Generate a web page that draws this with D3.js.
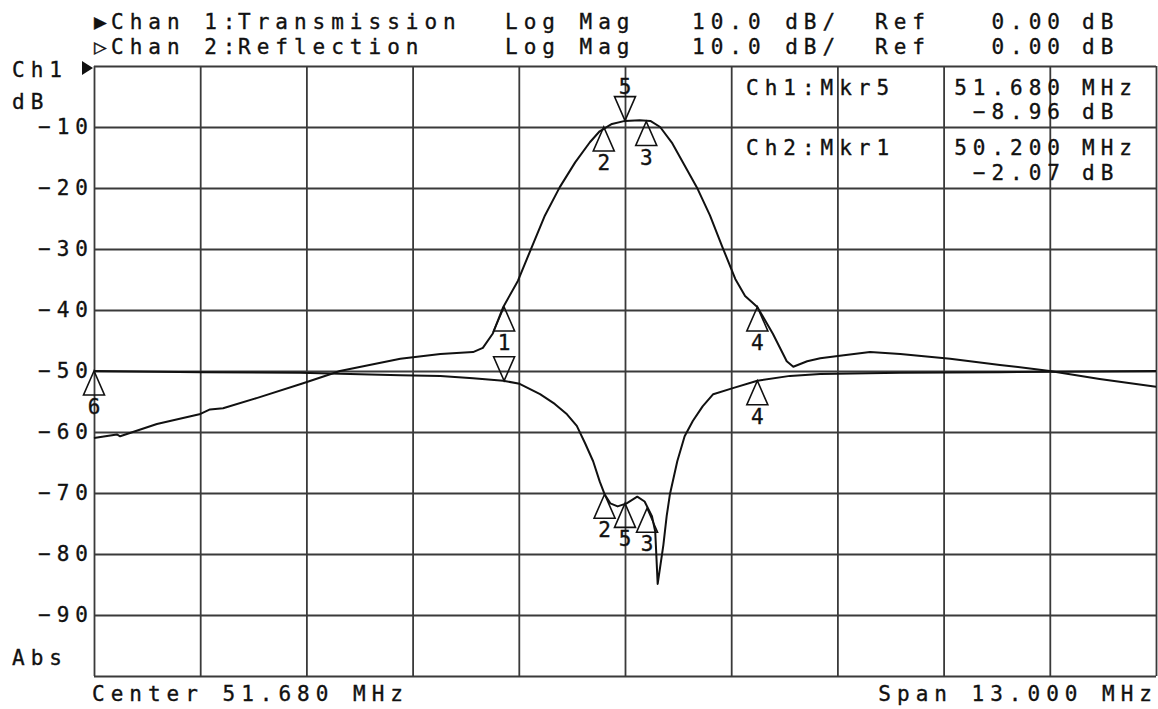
<!DOCTYPE html>
<html lang="en">
<head>
<meta charset="UTF-8">
<title>Transmission / Reflection</title>
<script src="https://d3js.org/d3.v7.min.js"></script>
<style>
    body { margin: 0; background: #fff; }
    text { font-family: "DejaVu Sans Mono", monospace; font-size: 21px; letter-spacing: 6px; fill: #111; stroke: #111; stroke-width: 0.35px; }
</style>
</head>
<body>
<script>
// sweep: center 51.680 MHz, span 13.000 MHz
const center = 51.68, span = 13.0;
const yTicks = [-10, -20, -30, -40, -50, -60, -70, -80, -90];

// channel 1 (transmission), MHz / dB
const ch1Freq = [45.18, 45.46, 45.50, 45.95, 46.47, 46.60, 46.76, 47.18, 47.74, 48.19, 48.93, 49.42, 49.82, 49.94, 50.06, 50.19,
    50.37, 50.52, 50.70, 50.88, 51.07, 51.25, 51.37, 51.52, 51.68, 51.86, 51.99, 52.11, 52.26, 52.41, 52.56, 52.72, 52.87,
    53.03, 53.15, 53.30, 53.49, 53.66, 53.74, 53.91, 54.07, 54.31, 54.68, 55.05, 55.66, 56.27, 56.88, 57.49, 58.18];
const ch1Db = [-61.0, -60.4, -60.7, -58.7, -57.1, -56.3, -56.1, -54.4, -52.0, -50.0, -48.0, -47.2, -46.9, -46.2, -43.9, -39.5,
    -35.2, -30.3, -24.5, -19.9, -15.8, -12.5, -10.7, -9.5, -9.0, -8.9, -9.0, -10.0, -12.7, -16.3, -19.9, -24.5, -29.6,
    -34.9, -37.7, -39.5, -43.9, -48.4, -49.3, -48.4, -47.9, -47.5, -46.9, -47.2, -48.0, -49.0, -50.0, -51.3, -52.6];

// channel 2 (reflection)
const ch2Freq = [45.18, 46.48, 47.70, 48.93, 49.42, 49.82, 50.19, 50.39, 50.64, 50.82, 50.97, 51.09, 51.19, 51.29, 51.37,
    51.43, 51.50, 51.59, 51.70, 51.83, 51.92, 52.01, 52.05, 52.08, 52.15, 52.19, 52.23, 52.32, 52.41, 52.51, 52.63, 52.76,
    53.00, 53.30, 53.70, 54.07, 55.05, 56.27, 58.18];
const ch2Db = [-50.0, -50.2, -50.3, -50.7, -50.8, -51.2, -51.6, -52.1, -53.8, -55.4, -57.1, -59.0, -61.8, -64.8, -68.1,
    -70.2, -71.7, -72.2, -71.7, -70.6, -71.4, -73.8, -76.3, -84.9, -78.5, -73.8, -70.2, -64.8, -60.7, -58.2, -55.8, -53.8,
    -52.8, -51.6, -50.8, -50.5, -50.3, -50.2, -50.0];

// markers
const ch1MkrLabel = ["1", "2", "3", "4", "5"];
const ch1MkrFreq = [50.20, 51.42, 51.94, 53.30, 51.68];
const ch1MkrDb = [-39.5, -10.0, -9.1, -39.5, -8.96];
const ch1MkrDir = ["up", "up", "up", "up", "down"];
const ch2MkrLabel = ["6", "1", "2", "5", "3", "4"];
const ch2MkrFreq = [45.18, 50.20, 51.43, 51.68, 51.95, 53.30];
const ch2MkrDb = [-50.0, -51.6, -70.2, -71.7, -72.5, -51.6];
const ch2MkrDir = ["up", "down", "up", "up", "up", "up"];

const width = 1158, height = 709;
const pLeft = 94, pRight = 1156, pTop = 66, pBottom = 676;
const LS = 6; // letter spacing, compensates end-anchored text

const x = d3.scaleLinear().domain([center - span / 2, center + span / 2]).range([pLeft, pRight]);
const y = d3.scaleLinear().domain([-100, 0]).range([pBottom, pTop]);

const svg = d3.select("body").append("svg")
    .attr("width", width)
    .attr("height", height);

svg.append("rect").attr("width", width).attr("height", height).attr("fill", "#fff");

// grid
const gx = svg.append("g")
    .attr("transform", `translate(0,${pBottom})`)
    .call(d3.axisBottom(x).tickValues(d3.range(11).map(i => center - span / 2 + i * span / 10))
        .tickSize(-(pBottom - pTop)).tickFormat(""));
const gy = svg.append("g")
    .attr("transform", `translate(${pLeft},0)`)
    .call(d3.axisLeft(y).tickValues(d3.range(-100, 1, 10)).tickSize(-(pRight - pLeft)).tickFormat(""));
[gx, gy].forEach(g => {
    g.select(".domain").remove();
    g.selectAll("line").attr("stroke", "#3a3a3a").attr("stroke-width", 1.8);
});

// y labels
const ya = svg.append("g")
    .attr("transform", `translate(${pLeft - 6},0)`)
    .call(d3.axisLeft(y).tickValues(yTicks).tickSize(0).tickPadding(0).tickFormat(d => "\u2212" + Math.abs(d)));
ya.select(".domain").remove();
ya.selectAll("text")
    .attr("dx", LS)
    .attr("font-family", null)
    .attr("font-size", null)
    .style("font-family", "DejaVu Sans Mono")
    .style("font-size", "21px")
    .style("letter-spacing", LS + "px")
    .attr("fill", "#111");

// traces
const line = d3.line().x(d => x(d[0])).y(d => y(d[1]));
svg.append("path")
    .datum(ch1Freq.map((f, i) => [f, ch1Db[i]]))
    .attr("d", line)
    .attr("fill", "none").attr("stroke", "#111").attr("stroke-width", 2).attr("stroke-linejoin", "round");
svg.append("path")
    .datum(ch2Freq.map((f, i) => [f, ch2Db[i]]))
    .attr("d", line)
    .attr("fill", "none").attr("stroke", "#111").attr("stroke-width", 2).attr("stroke-linejoin", "round");

// marker triangles; a number shared by two markers at the same spot is printed once
const placed = [];
function drawMarkers(labels, freqs, dbs, dirs) {
    const tw = 10.5, th = 24;
    labels.forEach((lab, i) => {
        const px = x(freqs[i]), py = y(dbs[i]);
        const s = dirs[i] === "up" ? 1 : -1;
        svg.append("path")
            .attr("d", `M${px},${py}L${px - tw},${py + s * th}L${px + tw},${py + s * th}Z`)
            .attr("fill", "none").attr("stroke", "#111").attr("stroke-width", 1.6);
        const ly = py + s * (th + 11) + 8;
        if (placed.some(p => p.lab === lab && Math.abs(p.x - px) < 8 && Math.abs(p.y - ly) < 12)) return;
        placed.push({ lab, x: px, y: ly });
        svg.append("text")
            .attr("x", px + LS / 2)
            .attr("y", ly)
            .attr("text-anchor", "middle")
            .text(lab);
    });
}
drawMarkers(ch1MkrLabel, ch1MkrFreq, ch1MkrDb, ch1MkrDir);
drawMarkers(ch2MkrLabel, ch2MkrFreq, ch2MkrDb, ch2MkrDir);

// reference pointer at left
svg.append("path")
    .attr("d", `M${pLeft - 1},${pTop + 2}L${pLeft - 12},${pTop - 5}L${pLeft - 12},${pTop + 9}Z`)
    .attr("fill", "#111");

// annotation text
function txt(s, tx, ty, anchor) {
    svg.append("text")
        .attr("x", anchor === "end" ? tx + LS : tx)
        .attr("y", ty)
        .attr("text-anchor", anchor || "start")
        .attr("xml:space", "preserve")
        .text(s);
}
txt("\u25B6", 94, 29); txt("Chan 1:", 111, 29); txt("Transmission", 238, 29);
txt("\u25B7", 94, 54); txt("Chan 2:", 111, 54); txt("Reflection", 238, 54);
[29, 54].forEach(b => {
    txt("Log Mag", 505, b);
    txt("10.0 dB/", 692, b);
    txt("Ref", 875, b);
    txt("0.00", 1060, b, "end");
    txt("dB", 1082, b);
});
txt("Ch1", 12, 77);
txt("dB", 12, 109);
txt("Abs", 12, 665);
txt("Ch1:Mkr5", 746, 95);
txt("51.680", 1060, 95, "end"); txt("MHz", 1082, 95);
txt("\u22128.96", 1060, 119, "end"); txt("dB", 1082, 119);
txt("Ch2:Mkr1", 746, 155);
txt("50.200", 1060, 155, "end"); txt("MHz", 1082, 155);
txt("\u22122.07", 1060, 180, "end"); txt("dB", 1082, 180);
txt("Center 51.680 MHz", 92, 701);
txt("Span 13.000 MHz", 1152, 701, "end");
</script>
</body>
</html>
